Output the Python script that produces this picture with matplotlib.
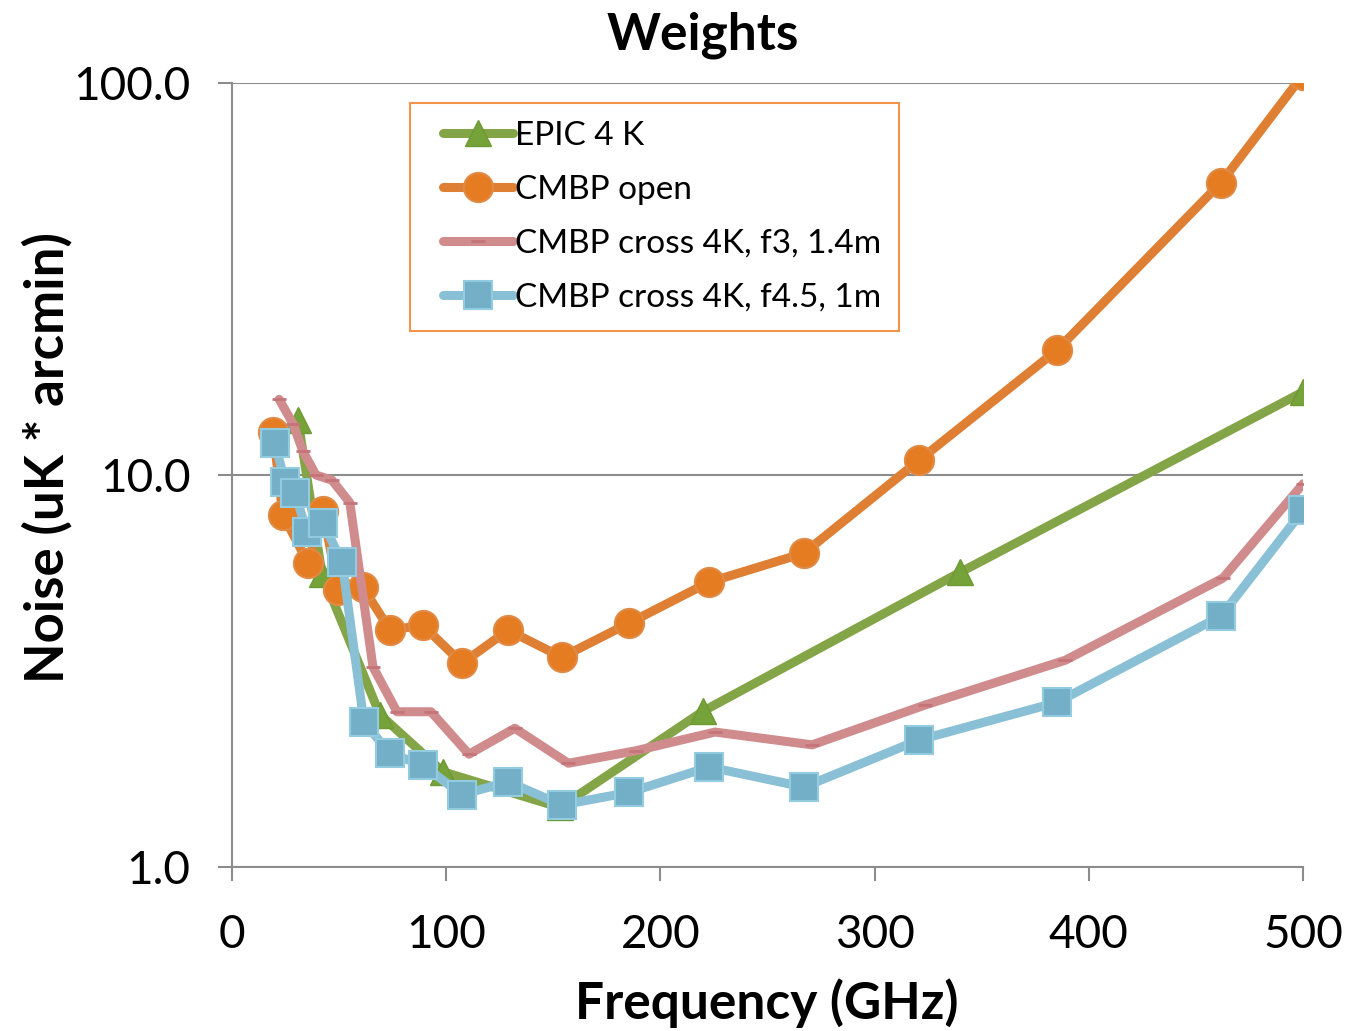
import matplotlib
matplotlib.use("Agg")
import matplotlib.pyplot as plt
from matplotlib.ticker import FixedLocator, NullLocator, FormatStrFormatter
from matplotlib.legend_handler import HandlerLine2D

plt.rcParams['font.family'] = ['Lato', 'DejaVu Sans']

title = "Weights"
xlabel = "Frequency (GHz)"
ylabel = "Noise (uK * arcmin)"

epic_f = [30.8, 42, 69, 98.5, 153, 220, 340, 500]
epic_v = [13.8, 5.6, 2.45, 1.75, 1.42, 2.5, 5.65, 16.3]

open_f = [19.2, 23.8, 35.5, 42.5, 49.5, 61, 73.8, 89, 107.4, 128.9, 154, 185.3, 222.7, 267, 320.7, 385, 461.7, 500]
open_v = [12.9, 7.9, 5.97, 8.1, 5.1, 5.18, 4.02, 4.14, 3.31, 4.02, 3.43, 4.19, 5.33, 6.32, 10.9, 20.8, 55.7, 105]

f3_f = [22, 28.5, 33.1, 39.2, 46.7, 55, 65.8, 77, 92.9, 110.6, 132, 157, 188.5, 225.5, 270.8, 323.5, 389, 462.6, 500]
f3_v = [15.6, 13.5, 11.5, 10.0, 9.7, 8.5, 3.24, 2.49, 2.49, 1.94, 2.26, 1.84, 1.98, 2.21, 2.05, 2.59, 3.37, 5.46, 9.5]

f45_f = [20.1, 24.7, 29.4, 35, 42.5, 51.4, 61.6, 73.8, 89, 107.4, 128.9, 154, 185.3, 222.7, 267, 320.7, 385, 461.7, 500]
f45_v = [12.07, 9.6, 9.0, 7.16, 7.54, 6.0, 2.34, 1.95, 1.82, 1.53, 1.65, 1.44, 1.55, 1.80, 1.60, 2.11, 2.63, 4.37, 8.13]

labels = ["EPIC 4 K", "CMBP open", "CMBP cross 4K, f3, 1.4m", "CMBP cross 4K, f4.5, 1m"]
yticks = [1.0, 10.0, 100.0]
xticks = [0, 100, 200, 300, 400, 500]


class ShiftedHandler(HandlerLine2D):
    def get_xdata(self, legend, xdescent, ydescent, width, height, fontsize):
        off = 0.45 * fontsize
        x0 = -xdescent + off
        x1 = -xdescent + width
        return [x0, x1], [(x0 + x1) / 2]


fig = plt.figure(figsize=(13.56, 10.31), dpi=100)
ax = fig.add_axes([0.1711, 0.159, 0.7899, 0.7605])

ax.plot(epic_f, epic_v, color='#83A547', lw=6.5, marker='^', ms=19,
        mfc='#76A23A', mec='#6E9A34', mew=1, label=labels[0], solid_capstyle='round', zorder=3)
ax.plot(open_f, open_v, color='#DE7F34', lw=6.5, marker='o', ms=21,
        mfc='#E67C22', mec='#E08A45', mew=1.5, label=labels[1], solid_capstyle='round', zorder=4)
ax.plot(f3_f, f3_v, color='#D08B8D', lw=6.5, marker='_', ms=10,
        mec='#C57479', mew=2, label=labels[2], solid_capstyle='round', zorder=5)
ax.plot(f45_f, f45_v, color='#8AC0D5', lw=6.5, marker='s', ms=20,
        mfc='#74AFC8', mec='#93CBE0', mew=1.5, label=labels[3], solid_capstyle='round', zorder=6)

ax.set_yscale('log')
ax.set_ylim(1, 100)
ax.set_xlim(0, 500)
ax.yaxis.set_major_locator(FixedLocator(yticks))
ax.yaxis.set_minor_locator(NullLocator())
ax.yaxis.set_major_formatter(FormatStrFormatter('%.1f'))
ax.set_xticks(xticks)
ax.grid(axis='y', color='#8C8C8C', lw=1.5)
ax.set_axisbelow(True)
for s in ['top', 'right']:
    ax.spines[s].set_visible(False)
for s in ['left', 'bottom']:
    ax.spines[s].set_color('#8C8C8C')
    ax.spines[s].set_linewidth(1.5)
ax.tick_params(axis='both', which='major', labelsize=33, length=10, width=1.5,
               color='#8C8C8C', direction='out')
ax.tick_params(axis='x', pad=24)
ax.tick_params(axis='y', pad=20)

ax.set_xlabel(xlabel, fontsize=37, fontweight='bold')
ax.xaxis.label.set_va('center')
ax.xaxis.set_label_coords(0.4995, -0.173)
ax.set_ylabel(ylabel, fontsize=38, fontweight='bold')
ax.yaxis.label.set_va('center')
ax.yaxis.set_label_coords(-0.173, 0.522)
fig.text(0.518, 1 - 35 / 1031, title, fontsize=37, fontweight='bold', ha='center', va='center')

leg = ax.legend(loc='upper left', bbox_to_anchor=(0.166, 0.975), fontsize=24,
                frameon=True, fancybox=False, handlelength=2.55, handletextpad=0.05,
                borderpad=0.55, labelspacing=0.72, borderaxespad=0,
                handler_map={plt.Line2D: ShiftedHandler()})
leg.get_frame().set_edgecolor('#F07A1E')
leg.get_frame().set_linewidth(1.5)

fig.savefig('out.png', dpi=100)
